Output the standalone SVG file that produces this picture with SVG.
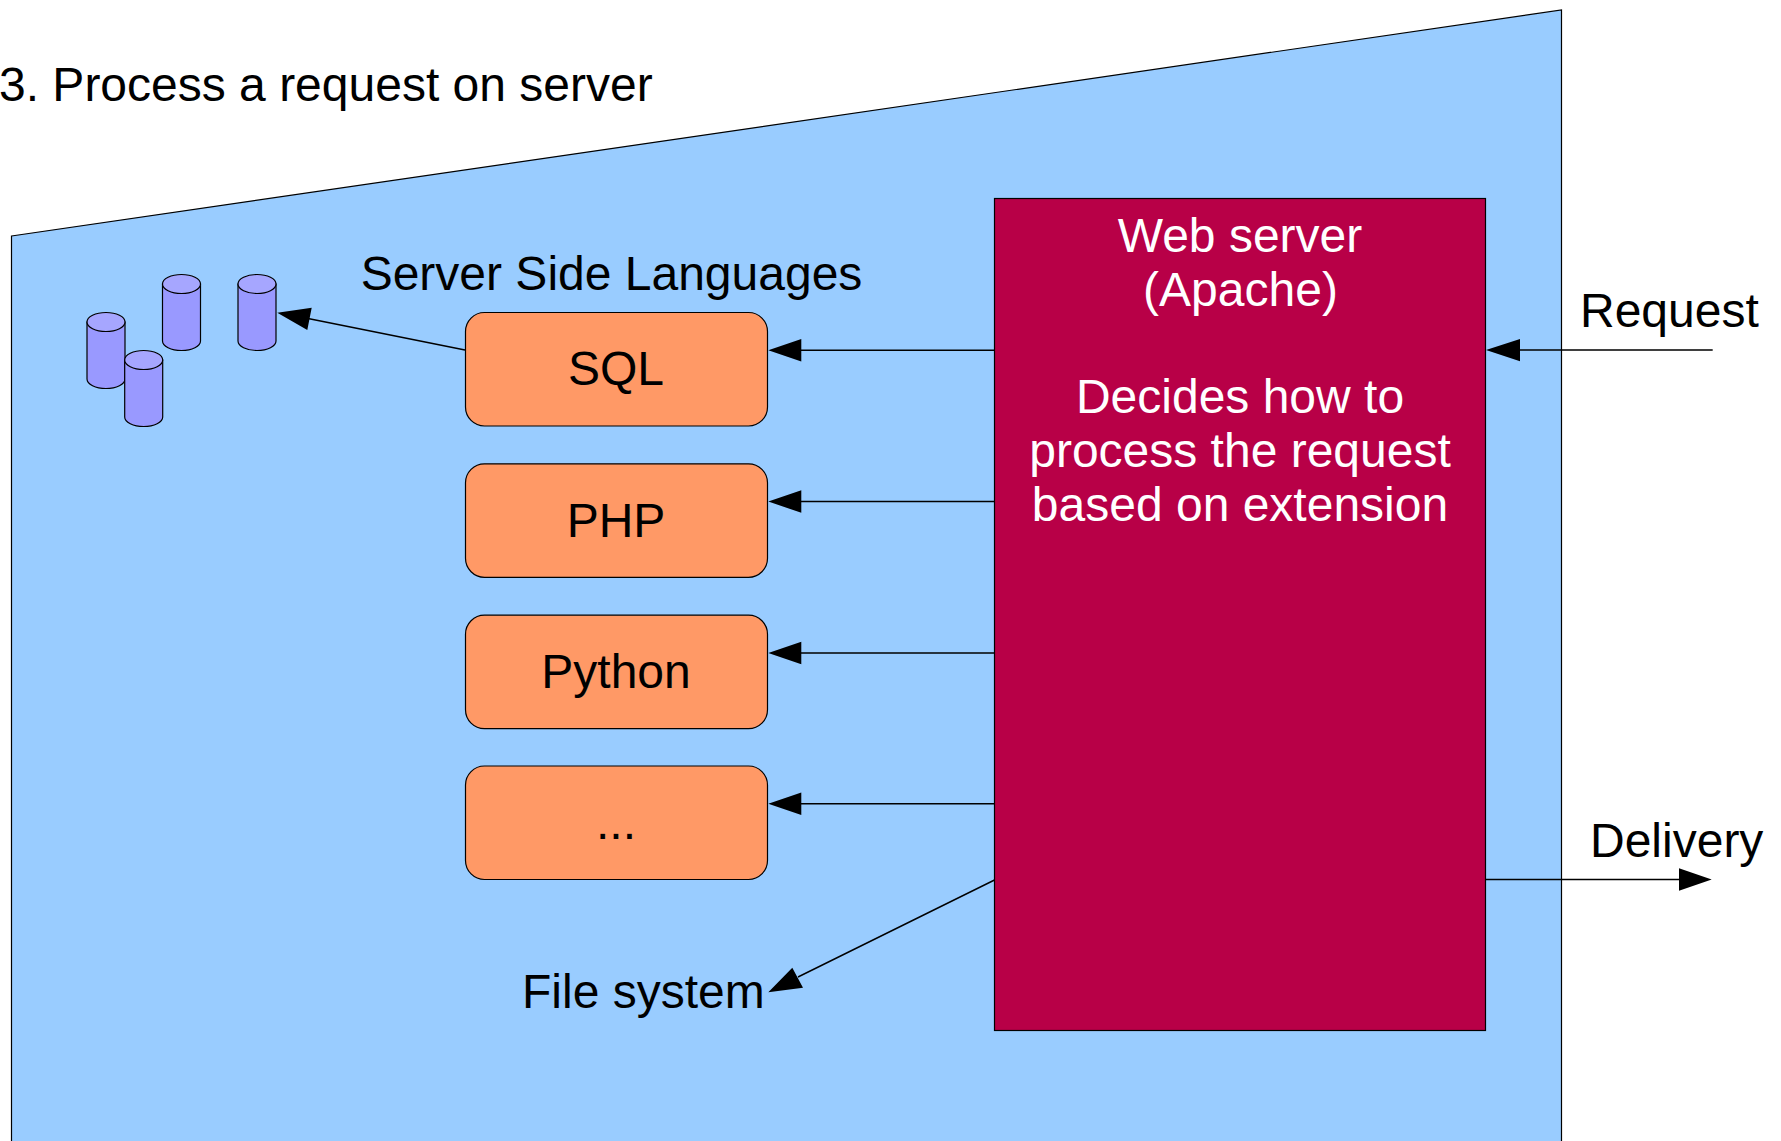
<svg xmlns="http://www.w3.org/2000/svg" width="1781" height="1141" viewBox="0 0 1781 1141">
<style>
text{font-family:"Liberation Sans",Arial,sans-serif;font-size:48px;fill:#000}
.m{text-anchor:middle}
.w{fill:#fff}
.box{fill:#ff9966;stroke:#000;stroke-width:1.2}
.cyl{fill:#9999ff;stroke:#000;stroke-width:1.2}
.cap{fill:#a6a6ff;stroke:#000;stroke-width:1.2}
.c{stroke:#000;stroke-width:1.4;fill:none}
.h{fill:#000}
</style>
<defs>
<g id="db">
<path class="cyl" d="M0 9.5V66.5A19 9.5 0 0 0 38 66.5V9.5Z"/>
<ellipse class="cap" cx="19" cy="9.5" rx="19" ry="9.5"/>
</g>
</defs>
<g id="zone"><path d="M11.5 236L1561.5 10V1150H11.5Z" fill="#99ccff" stroke="#000" stroke-width="1.2"/></g>
<g id="title"><text x="-1" y="101">3. Process a request on server</text></g>
<g id="db1"><use href="#db" x="87" y="312.5"/></g>
<g id="db3"><use href="#db" x="162.5" y="274.5"/></g>
<g id="db4"><use href="#db" x="238" y="274.5"/></g>
<g id="db2"><use href="#db" x="124.7" y="350.5"/></g>
<g id="ssl"><text x="611.5" y="290" class="m">Server Side Languages</text></g>
<g id="sql"><rect class="box" x="465.5" y="312.5" width="302" height="113.5" rx="19"/><text x="616" y="385" class="m">SQL</text></g>
<g id="php"><rect class="box" x="465.5" y="463.8" width="302" height="113.5" rx="19"/><text x="616" y="537" class="m">PHP</text></g>
<g id="python"><rect class="box" x="465.5" y="615.2" width="302" height="113.5" rx="19"/><text x="616" y="688" class="m">Python</text></g>
<g id="more"><rect class="box" x="465.5" y="766" width="302" height="113.5" rx="19"/><text x="616" y="839" class="m">...</text></g>
<g id="web"><rect x="994.5" y="198.5" width="491" height="832" fill="#b80047" stroke="#000" stroke-width="1.2"/>
<text class="m w" x="1240" y="252">Web server</text>
<text class="m w" x="1240.5" y="306">(Apache)</text>
<text class="m w" x="1240" y="413">Decides how to</text>
<text class="m w" x="1240" y="467">process the request</text>
<text class="m w" x="1240" y="521">based on extension</text></g>
<g id="request"><text x="1580" y="327">Request</text></g>
<g id="delivery"><text x="1590" y="857">Delivery</text></g>
<g id="filesystem"><text x="522" y="1008">File system</text></g>
<g id="connectors">
<path class="c" d="M994.5 350.3H800M994.5 501.5H800M994.5 653H800M994.5 803.7H800M1712.7 350H1518M1485.5 879.5H1680M994.5 880L798 977M465 350L308 318.5"/>
<path class="h" d="M768.3 350.3L801.3 339V361.6ZM768.3 501.5L801.3 490.2V512.8ZM768.3 653L801.3 641.7V664.3ZM768.3 803.7L801.3 792.6V815ZM1486 350L1520 339V361.3ZM1711.7 879.5L1679 868.3V890.7ZM768.3 992.3L792.3 967.7L803 987.7ZM277.3 312.7L311.7 307.7L307.3 330Z"/>
</g>
</svg>
